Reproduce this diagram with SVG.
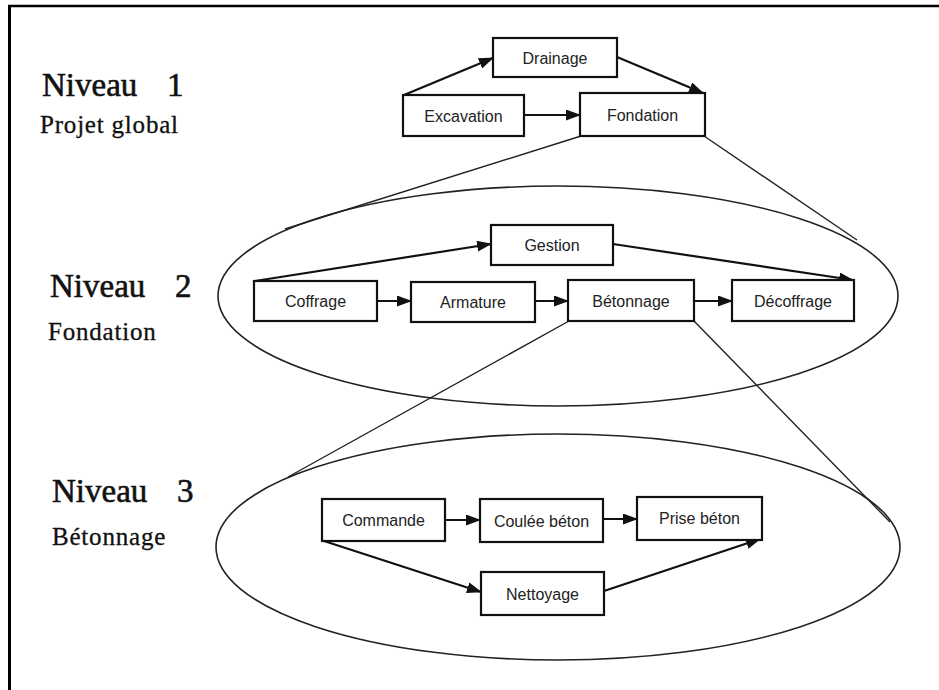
<svg xmlns="http://www.w3.org/2000/svg" width="939" height="690" viewBox="0 0 939 690">
<style>
.box{fill:#fff;stroke:#111;stroke-width:2.2}
.lbl{font-family:"Liberation Sans",Arial,sans-serif;font-size:16px;fill:#222;text-anchor:middle;dominant-baseline:central}
.lvl{font-family:"Liberation Serif","Times New Roman",serif;font-size:33px;fill:#111;stroke:#111;stroke-width:0.6}
.sub{font-family:"Liberation Serif","Times New Roman",serif;font-size:25px;letter-spacing:0.8px;fill:#111;stroke:#111;stroke-width:0.3}
.arr{stroke:#111;stroke-width:2.2;fill:none;marker-end:url(#ah)}
.zoom{stroke:#222;stroke-width:1.4;fill:none}
.ell{stroke:#222;stroke-width:1.6;fill:none}
</style>
<defs>
<marker id="ah" markerUnits="userSpaceOnUse" markerWidth="15" markerHeight="11" refX="14" refY="5.5" orient="auto">
<path d="M0,0 L15,5.5 L0,11 z" fill="#111"/>
</marker>
</defs>
<rect width="939" height="690" fill="#fff"/>
<g id="frame">
<line x1="9.5" y1="6" x2="9.5" y2="690" stroke="#000" stroke-width="3"/>
<line x1="8" y1="6" x2="939" y2="6" stroke="#000" stroke-width="2.5"/>
</g>
<g id="levels">
<text class="lvl" x="42" y="96">Niveau <tspan x="167">1</tspan></text>
<text class="sub" x="40" y="133">Projet global</text>
<text class="lvl" x="50" y="297">Niveau <tspan x="175">2</tspan></text>
<text class="sub" x="48" y="340">Fondation</text>
<text class="lvl" x="52" y="502">Niveau <tspan x="177">3</tspan></text>
<text class="sub" x="52" y="545">Bétonnage</text>
</g>
<g id="zoom-ellipses">
<ellipse class="ell" cx="558" cy="296" rx="340" ry="110"/>
<ellipse class="ell" cx="558" cy="547" rx="342" ry="113"/>
</g>
<g id="connectors">
<line class="zoom" x1="581" y1="136" x2="285" y2="229"/>
<line class="zoom" x1="704" y1="136" x2="857" y2="240"/>
<line class="zoom" x1="569" y1="321" x2="288" y2="477"/>
<line class="zoom" x1="694" y1="321" x2="890" y2="522"/>
<line class="arr" x1="404" y1="95" x2="493" y2="58"/>
<line class="arr" x1="617" y1="57" x2="703" y2="93"/>
<line class="arr" x1="524" y1="115" x2="580" y2="115"/>
<line class="arr" x1="255" y1="281" x2="491" y2="244"/>
<line class="arr" x1="613" y1="244" x2="853" y2="280"/>
<line class="arr" x1="377" y1="301" x2="411" y2="301"/>
<line class="arr" x1="535" y1="301" x2="568" y2="301"/>
<line class="arr" x1="694" y1="301" x2="732" y2="301"/>
<line class="arr" x1="445" y1="520" x2="480" y2="520"/>
<line class="arr" x1="603" y1="519" x2="637" y2="519"/>
<line class="arr" x1="324" y1="541" x2="481" y2="592"/>
<line class="arr" x1="604" y1="591" x2="760" y2="539"/>
</g>
<g id="n-drainage"><rect class="box" x="493" y="38" width="124" height="39"/><text class="lbl" x="555" y="58">Drainage</text></g>
<g id="n-excavation"><rect class="box" x="403" y="95" width="121" height="41"/><text class="lbl" x="463.5" y="116">Excavation</text></g>
<g id="n-fondation"><rect class="box" x="580" y="93" width="125" height="43"/><text class="lbl" x="642.5" y="115">Fondation</text></g>
<g id="n-gestion"><rect class="box" x="491" y="225" width="122" height="40"/><text class="lbl" x="552" y="245">Gestion</text></g>
<g id="n-coffrage"><rect class="box" x="254" y="281" width="123" height="40"/><text class="lbl" x="315.5" y="301">Coffrage</text></g>
<g id="n-armature"><rect class="box" x="411" y="282" width="124" height="40"/><text class="lbl" x="473" y="302">Armature</text></g>
<g id="n-betonnage"><rect class="box" x="568" y="280" width="126" height="41"/><text class="lbl" x="631" y="301">Bétonnage</text></g>
<g id="n-decoffrage"><rect class="box" x="732" y="280" width="122" height="41"/><text class="lbl" x="793" y="301">Décoffrage</text></g>
<g id="n-commande"><rect class="box" x="322" y="499" width="123" height="42"/><text class="lbl" x="383.5" y="520">Commande</text></g>
<g id="n-coulee"><rect class="box" x="480" y="499" width="123" height="43"/><text class="lbl" x="541.5" y="521">Coulée béton</text></g>
<g id="n-prise"><rect class="box" x="637" y="497" width="125" height="43"/><text class="lbl" x="699.5" y="518">Prise béton</text></g>
<g id="n-nettoyage"><rect class="box" x="481" y="572" width="123" height="43"/><text class="lbl" x="542.5" y="594">Nettoyage</text></g>
</svg>
